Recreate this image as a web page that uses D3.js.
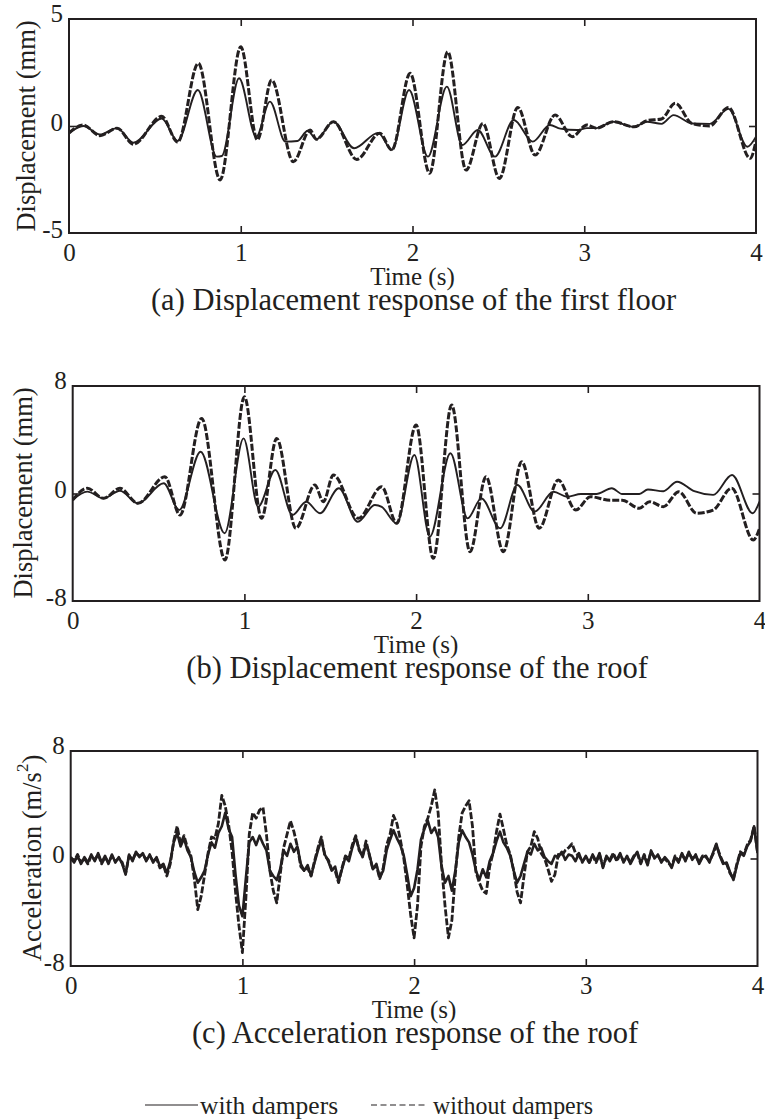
<!DOCTYPE html>
<html><head><meta charset="utf-8">
<script src="https://cdn.jsdelivr.net/npm/d3@7"></script>
<style>
body{margin:0;background:#fff}
text{font-family:"Liberation Serif","Times New Roman",serif;fill:#231f20}
</style>
</head><body>
<svg id="chart" width="765" height="1119"></svg>
<script>
// ---------------- DATA ----------------
const xTicks = [0, 1, 2, 3, 4];
const yTicksA = [-5, 0, 5];
const yTicksB = [-8, 0, 8];
const yTicksC = [-8, 0, 8];
const seriesNames = ["with dampers", "without dampers"];
const captions = ["(a) Displacement response of the first floor", "(b) Displacement response of the roof", "(c) Acceleration response of the roof"];

// (a) first floor displacement (mm)
const timeA_with = [0,0.083,0.18,0.28,0.375,0.54,0.633,0.75,0.86,0.89,0.99,1.09,1.17,1.26,1.33,1.39,1.44,1.54,1.66,1.8,1.88,1.98,2.09,2.2,2.29,2.38,2.48,2.59,2.7,2.8,2.86,2.96,3.015,3.07,3.17,3.29,3.365,3.45,3.52,3.627,3.73,3.84,3.95,4.0];
const dispA_with = [-0.33,0.0,-0.4,-0.1,-0.78,0.35,-0.7,1.68,-1.43,-1.4,2.23,-0.5,1.14,-0.73,-0.7,-0.22,-0.62,0.2,-1.04,-0.32,-1.12,1.68,-1.43,1.84,-0.89,-0.19,-1.43,0.28,-0.73,0.05,-0.12,-0.19,-0.1,-0.1,0.2,-0.04,0.2,0.1,0.51,0.12,0.1,0.8,-0.97,-0.5];
const timeA_without = [0,0.083,0.18,0.28,0.375,0.54,0.633,0.753,0.88,1.0,1.097,1.18,1.306,1.404,1.44,1.54,1.675,1.81,1.88,1.986,2.1,2.205,2.312,2.41,2.506,2.613,2.714,2.83,2.93,3.015,3.07,3.17,3.29,3.365,3.45,3.53,3.627,3.73,3.84,3.966,4.0];
const dispA_without = [-0.33,0.05,-0.45,-0.1,-0.85,0.45,-0.75,2.93,-2.52,3.7,-0.65,2.15,-1.67,-0.19,-0.62,0.2,-1.56,-0.34,-1.12,2.46,-2.21,3.47,-2.06,0.12,-2.45,0.87,-1.36,0.51,-0.5,0.05,-0.1,0.2,-0.04,0.25,0.33,1.06,0.12,0.0,0.87,-1.51,-0.7];

// (b) roof displacement (mm)
const timeB_with = [0,0.085,0.18,0.275,0.38,0.53,0.62,0.745,0.885,0.995,1.08,1.18,1.28,1.36,1.44,1.55,1.66,1.76,1.8,1.887,1.99,2.08,2.2,2.3,2.38,2.49,2.59,2.69,2.8,2.88,2.96,3.05,3.14,3.2,3.3,3.35,3.44,3.52,3.62,3.73,3.84,3.96,4.0];
const dispB_with = [-0.48,0.14,-0.36,0.2,-0.73,0.76,-1.23,3.11,-2.96,4.1,-0.98,1.75,-1.6,-0.61,-1.47,0.39,-2.1,-0.86,-1.0,-2.22,2.86,-3.21,2.99,-1.85,-0.36,-2.59,0.63,-1.35,0.13,-0.24,-0.04,-0.04,0.39,-0.04,-0.04,0.3,0.17,0.88,0.17,-0.1,1.38,-1.47,-0.6];
const timeB_without = [0,0.085,0.18,0.275,0.38,0.537,0.625,0.751,0.887,1.0,1.1,1.188,1.3,1.41,1.46,1.518,1.663,1.8,1.887,2.0,2.1,2.207,2.314,2.407,2.508,2.615,2.717,2.828,2.93,3.015,3.13,3.2,3.3,3.36,3.44,3.53,3.634,3.73,3.838,3.964,4.0];
const dispB_without = [-0.48,0.39,-0.36,0.39,-0.73,1.25,-1.6,5.59,-4.95,7.2,-1.85,4.1,-2.59,0.63,-0.61,1.38,-1.85,0.5,-2.22,5.1,-4.82,6.58,-4.33,1.25,-4.33,2.37,-2.59,1.0,-1.23,-0.24,-0.5,-0.5,-1.1,-0.61,-0.98,0.13,-1.47,-1.23,0.39,-3.46,-2.6];

// (c) roof acceleration (m/s^2), sampled every 0.02 s from 0 to 4 s
const accTime = d3.range(201).map(i => +(i * 0.02).toFixed(2));
const accC_with = [
  0.0,-0.3,0.2,-0.4,0.1,-0.3,0.3,-0.2,0.4,-0.3,
  0.2,-0.4,0.3,-0.3,0.1,-0.4,-1.2,0.3,-0.2,0.5,
  0.1,0.4,-0.2,0.3,-0.3,0.1,-0.6,-0.4,-1.1,-0.2,
  1.2,1.9,0.9,1.5,0.6,0.1,-1.0,-1.8,-1.4,-0.9,
  0.3,1.2,0.8,1.9,2.4,3.4,2.2,1.6,-1.2,-3.5,
  -4.3,-1.5,1.2,1.6,1.0,1.7,1.1,0.6,-0.9,-1.3,
  -1.6,-0.8,0.6,0.2,1.1,0.5,0.9,-0.4,-0.9,-0.5,
  -1.3,-0.3,0.6,1.4,0.3,-0.2,-0.9,-0.6,-1.7,-0.8,
  0.1,-0.2,0.8,1.6,0.7,0.1,1.1,0.3,-0.8,-0.4,
  -1.4,-0.9,0.6,1.4,2.1,1.5,1.0,0.2,-1.2,-2.8,
  -2.2,-0.8,1.4,2.2,2.8,1.9,2.3,1.6,-0.6,-1.8,
  -1.3,-2.4,-0.9,1.2,2.1,1.6,1.2,0.3,-0.9,-1.6,
  -0.8,-1.4,-0.2,0.4,1.3,2.0,1.2,0.8,0.2,-0.9,
  -1.8,-1.3,-0.4,0.5,0.3,1.1,0.6,0.8,0.1,-0.2,
  -0.4,0.2,0.1,0.5,-0.1,0.3,0.2,-0.2,0.4,-0.3,
  0.2,-0.3,0.3,-0.2,0.4,-0.7,0.2,-0.2,0.3,-0.1,
  0.4,-0.3,0.2,-0.4,0.1,0.5,-0.3,0.2,-0.5,0.6,
  0.0,0.3,-0.3,0.1,-0.2,-0.7,0.1,-0.3,0.4,-0.2,
  0.5,-0.1,0.3,-0.4,0.1,0.2,-0.3,0.4,1.1,0.2,
  -0.4,-0.3,-1.0,-1.6,-0.5,0.4,0.2,0.9,1.3,2.4,
  0.4];
const accC_without = [
  0.1,-0.2,0.3,-0.3,0.0,-0.4,0.2,-0.1,0.3,-0.4,
  0.1,-0.3,0.2,-0.2,0.0,-0.3,-1.1,0.2,-0.1,0.4,
  0.2,0.3,-0.1,0.2,-0.2,0.0,-0.7,-0.5,-1.3,-0.4,
  1.3,2.4,1.1,1.7,0.8,0.2,-1.5,-3.8,-2.8,-1.2,
  0.4,1.6,1.5,2.6,4.7,3.9,2.5,0.5,-2.5,-5.0,
  -7.0,-3.0,1.8,3.4,3.0,3.6,3.8,1.8,-0.9,-2.4,
  -3.3,-1.2,0.8,1.8,2.8,2.0,0.9,-0.6,-0.9,-0.7,
  -1.3,-0.2,0.8,1.6,0.2,-0.1,-0.8,-0.9,-1.8,-0.7,
  0.2,0.0,1.0,1.7,0.6,0.2,1.3,0.2,-0.8,-0.5,
  -1.5,-0.7,1.0,1.8,3.2,2.6,1.4,0.0,-2.0,-4.2,
  -5.9,-3.5,0.9,2.4,3.0,3.9,5.1,3.4,-0.5,-3.5,
  -5.9,-4.6,-1.2,1.6,3.4,3.9,4.3,2.4,-1.0,-1.8,
  -2.4,-2.6,-0.6,0.4,2.0,3.3,2.2,1.0,0.3,-0.9,
  -2.5,-3.3,-1.3,0.5,0.9,2.0,1.5,0.4,0.0,-0.8,
  -1.7,-1.2,0.3,0.2,0.6,0.8,1.1,0.4,0.2,-0.2,
  0.1,-0.3,0.2,-0.3,0.3,-0.6,0.1,-0.1,0.4,-0.2,
  0.3,-0.2,0.1,-0.3,0.2,0.4,-0.4,0.3,-0.4,0.5,
  0.1,0.2,-0.2,0.0,-0.3,-0.6,0.2,-0.2,0.3,-0.1,
  0.4,0.0,0.2,-0.3,0.2,0.1,-0.2,0.3,1.0,0.3,
  -0.3,-0.4,-1.1,-1.5,-0.4,0.5,0.3,1.0,1.4,2.4,
  0.5];

// ---------------- DRAWING ----------------
const svg = d3.select("#chart");
svg.append("rect").attr("width", 765).attr("height", 1119).attr("fill", "#fff");
const ink = "#231f20";
const FONT = "'Liberation Serif', 'Times New Roman', serif";

const panels = [
  {left:69, right:756, top:19, bottom:233, yTicks:yTicksA, yLabel:"Displacement (mm)", yLabelX:26, yLabelY:126, caption:captions[0],
   series:[{t:timeA_with, v:dispA_with}, {t:timeA_without, v:dispA_without}], smooth:true},
  {left:72.7, right:759.5, top:386, bottom:601, yTicks:yTicksB, yLabel:"Displacement (mm)", yLabelX:23, yLabelY:493, caption:captions[1],
   series:[{t:timeB_with, v:dispB_with}, {t:timeB_without, v:dispB_without}], smooth:true},
  {left:70.7, right:757.5, top:751, bottom:966, yTicks:yTicksC, yLabel:"Acceleration (m/s", sup:"2", yLabelX:32, yLabelY:858, caption:captions[2],
   series:[{t:accTime, v:accC_with}, {t:accTime, v:accC_without}], smooth:false}
];

panels.forEach(p => {
  const x = d3.scaleLinear().domain([xTicks[0], xTicks[xTicks.length-1]]).range([p.left, p.right]);
  const y = d3.scaleLinear().domain([p.yTicks[0], p.yTicks[p.yTicks.length-1]]).range([p.bottom, p.top]);
  const g = svg.append("g");

  const cid = "clip" + p.top;
  svg.append("clipPath").attr("id", cid).append("rect")
    .attr("x", p.left).attr("y", p.top).attr("width", p.right - p.left).attr("height", p.bottom - p.top);

  const line = d3.line().x(d => x(d[0])).y(d => y(d[1]))
    .curve(p.smooth ? d3.curveMonotoneX : d3.curveLinear);

  const lines = g.append("g").attr("clip-path", `url(#${cid})`);
  lines.append("path").datum(p.series[0].t.map((t,i) => [t, p.series[0].v[i]]))
    .attr("d", line).attr("fill", "none").attr("stroke", ink)
    .attr("stroke-width", p.smooth ? 1.9 : 2.6).attr("stroke-linejoin", "round");
  lines.append("path").datum(p.series[1].t.map((t,i) => [t, p.series[1].v[i]]))
    .attr("d", line).attr("fill", "none").attr("stroke", ink)
    .attr("stroke-width", p.smooth ? 3 : 2.8).attr("stroke-dasharray", "7,2").attr("stroke-linejoin", "round");

  const inner = xTicks.slice(1, -1);
  const fmt = d => String(d);
  const axB = g.append("g").attr("transform", `translate(0,${p.bottom})`)
    .call(d3.axisBottom(x).tickValues(xTicks).tickSizeInner(-7).tickSizeOuter(0).tickPadding(10).tickFormat(fmt));
  const axT = g.append("g").attr("transform", `translate(0,${p.top})`)
    .call(d3.axisTop(x).tickValues(inner).tickSizeInner(-7).tickSizeOuter(0).tickFormat(""));
  const axL = g.append("g").attr("transform", `translate(${p.left},0)`)
    .call(d3.axisLeft(y).tickValues(p.yTicks).tickSizeInner(-7).tickSizeOuter(0).tickPadding(6).tickFormat(fmt));
  const axR = g.append("g").attr("transform", `translate(${p.right},0)`)
    .call(d3.axisRight(y).tickValues([0]).tickSizeInner(-7).tickSizeOuter(0).tickFormat(""));
  [axB, axT, axL, axR].forEach(a => {
    a.select(".domain").remove();
    a.selectAll("line").attr("stroke", ink).attr("stroke-width", 1.6);
    a.selectAll("text").attr("font-family", FONT).attr("font-size", 25).attr("fill", ink);
  });
  axB.selectAll(".tick").filter(d => d === xTicks[0] || d === xTicks[xTicks.length-1]).select("line").remove();
  axL.selectAll(".tick").filter(d => d !== 0).select("line").remove();
  axL.selectAll(".tick text").attr("transform", d => `translate(0,${d === p.yTicks[p.yTicks.length-1] ? -6 : -4})`);

  g.append("rect").attr("x", p.left).attr("y", p.top).attr("width", p.right - p.left).attr("height", p.bottom - p.top)
    .attr("fill", "none").attr("stroke", ink).attr("stroke-width", 2);

  const cx = (p.left + p.right) / 2;
  g.append("text").attr("x", cx).attr("y", p.bottom + 43).attr("text-anchor", "middle")
    .attr("dominant-baseline", "central").attr("font-size", 25).text("Time (s)");
  g.append("text").attr("x", cx + 1).attr("y", p.bottom + 67).attr("text-anchor", "middle")
    .attr("dominant-baseline", "central").attr("font-size", 30.5).text(p.caption);

  const yl = g.append("text").attr("transform", `translate(${p.yLabelX},${p.yLabelY}) rotate(-90)`)
    .attr("text-anchor", "middle").attr("dominant-baseline", "central").attr("font-size", 26.5);
  yl.append("tspan").text(p.yLabel);
  if (p.sup) {
    yl.append("tspan").attr("font-size", 17).attr("dy", -10).text(p.sup);
    yl.append("tspan").attr("dy", 10).text(")");
  }
});

// legend
const lg = svg.append("g").attr("transform", "translate(0,1105)");
lg.append("line").attr("x1", 145).attr("x2", 198).attr("y1", 0).attr("y2", 0).attr("stroke", ink).attr("stroke-width", 1.2);
lg.append("text").attr("x", 200).attr("y", 0).attr("dominant-baseline", "central").attr("font-size", 25.5).text(seriesNames[0]);
lg.append("line").attr("x1", 371).attr("x2", 428).attr("y1", 0).attr("y2", 0).attr("stroke", ink).attr("stroke-width", 1.2).attr("stroke-dasharray", "6,3.5");
lg.append("text").attr("x", 433).attr("y", 0).attr("dominant-baseline", "central").attr("font-size", 25.5)
  .attr("textLength", 160).attr("lengthAdjust", "spacingAndGlyphs").text(seriesNames[1]);
</script>
</body></html>
